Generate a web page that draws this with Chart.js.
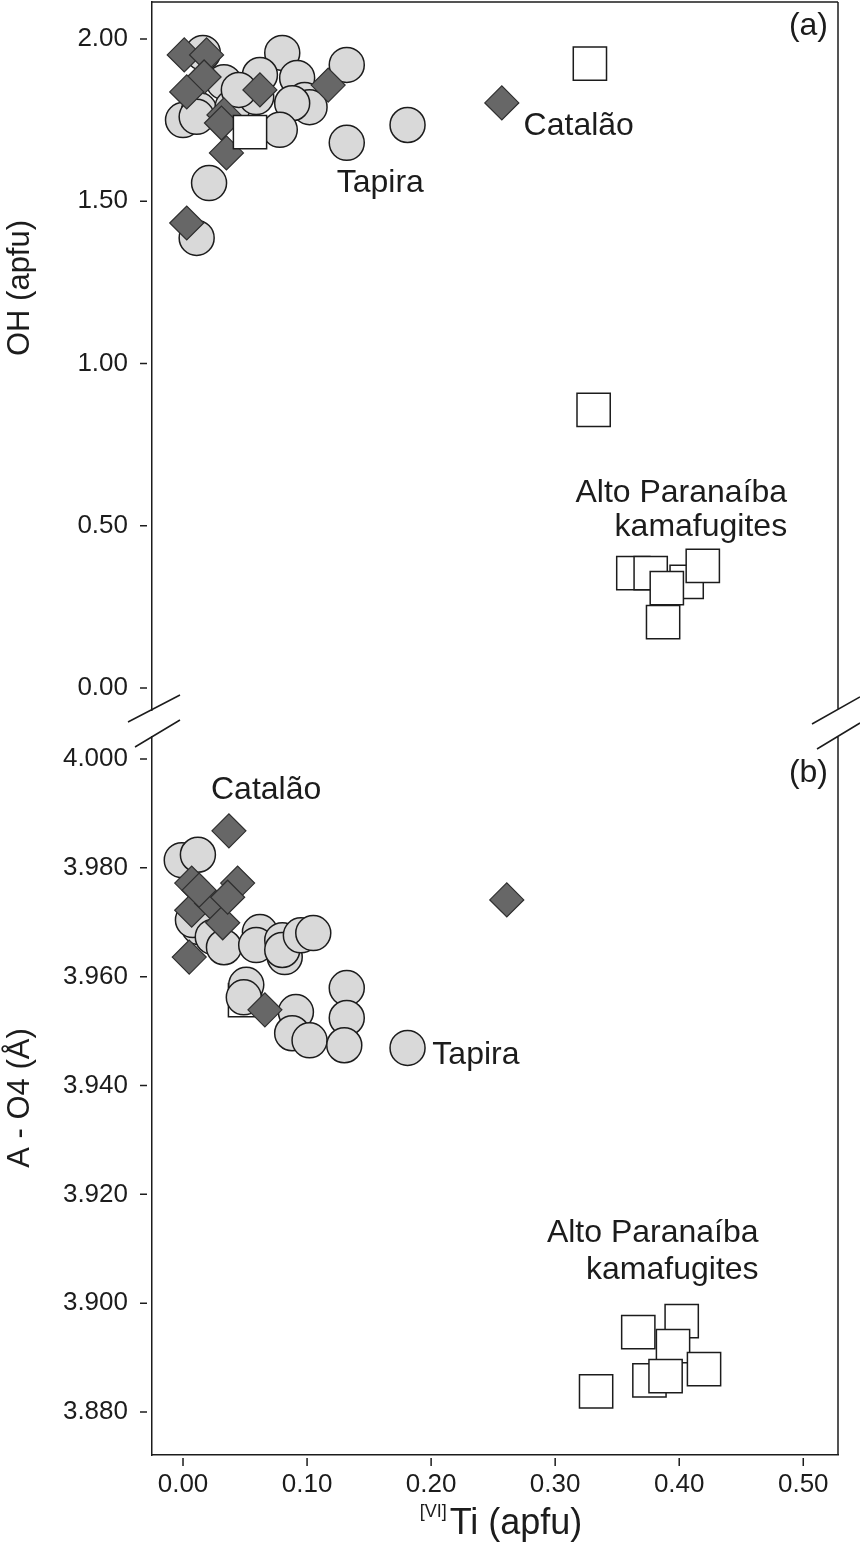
<!DOCTYPE html>
<html>
<head>
<meta charset="utf-8">
<title>OH and A-O4 vs Ti</title>
<script src="https://cdn.jsdelivr.net/npm/chart.js@4.4.1/dist/chart.umd.min.js"></script>
<style>
  html, body { margin: 0; padding: 0; background: #fff; }
  #wrap { position: relative; width: 860px; height: 1543px; overflow: hidden; }
  #wrap canvas { position: absolute; left: 0; }
  #panelA { top: 0; }
  #panelB { top: 715px; }
</style>
</head>
<body>
<div id="wrap">
  <canvas id="panelA" width="860" height="730"></canvas>
  <canvas id="panelB" width="860" height="828"></canvas>
</div>
<script>
const FONT = "'Liberation Sans', Arial, Helvetica, sans-serif";
const INK = '#1c1c1c';

// tick values
const TI_TICKS = [0, 0.1, 0.2, 0.3, 0.4, 0.5];
const OH_TICKS = [0, 0.5, 1.0, 1.5, 2.0];
const AO4_TICKS = [3.88, 3.90, 3.92, 3.94, 3.96, 3.98, 4.00];

// (a) OH (apfu) vs VI-Ti (apfu)
const tapiraTiA = [0.016, 0.080, 0.132, 0.033, 0.062, 0.092, 0.098, 0.102, 0.088, 0.000,
                   0.013, 0.011, 0.040, 0.059, 0.078, 0.132, 0.181, 0.021, 0.011, 0.045];
const tapiraOH  = [1.957, 1.957, 1.920, 1.867, 1.889, 1.880, 1.812, 1.790, 1.802, 1.750,
                   1.781, 1.760, 1.790, 1.821, 1.720, 1.680, 1.735, 1.556, 1.387, 1.843];
const catalaoTiA = [0.001, 0.019, 0.017, 0.003, 0.033, 0.062, 0.117, 0.035, 0.003, 0.257, 0.031];
const catalaoOH  = [1.951, 1.951, 1.883, 1.837, 1.766, 1.843, 1.858, 1.649, 1.433, 1.803, 1.741];
const altoTiA = [0.054, 0.328, 0.331, 0.363, 0.377, 0.406, 0.419, 0.390, 0.387];
const altoOH  = [1.713, 1.924, 0.857, 0.354, 0.354, 0.327, 0.376, 0.308, 0.203];

// (b) A-O4 (Å) vs VI-Ti (apfu)
const tapiraTiB = [-0.001, 0.012, 0.013, 0.008, 0.024, 0.033, 0.062, 0.059, 0.080, 0.082, 0.080,
                   0.095, 0.105, 0.051, 0.049, 0.091, 0.132, 0.132, 0.088, 0.102, 0.130, 0.181];
const tapiraAO4 = [3.9814, 3.9824, 3.9691, 3.9704, 3.9673, 3.9654, 3.9682, 3.9658, 3.9667, 3.9636, 3.9649,
                   3.9676, 3.9680, 3.9585, 3.9562, 3.9535, 3.9579, 3.9524, 3.9496, 3.9483, 3.9474, 3.9469];
const catalaoTiB = [0.037, 0.007, 0.044, 0.007, 0.023, 0.032, 0.036, 0.005, 0.066, 0.261, 0.013];
const catalaoAO4 = [3.9868, 3.9772, 3.9772, 3.9722, 3.9735, 3.9699, 3.9746, 3.9636, 3.9539, 3.9741, 3.9759];
const altoTiB = [0.050, 0.367, 0.402, 0.395, 0.376, 0.389, 0.420, 0.333];
const altoAO4 = [3.9557, 3.8947, 3.8967, 3.8921, 3.8858, 3.8866, 3.8879, 3.8838];

// group labels, placed in data units
const notesA = [
  { text: 'Tapira', x: 0.159, y: 1.556, align: 'center' },
  { text: 'Catalão', x: 0.319, y: 1.730, align: 'center' },
  { text: 'Alto Paranaíba', x: 0.487, y: 0.601, align: 'right' },
  { text: 'kamafugites', x: 0.487, y: 0.496, align: 'right' }
];
const notesB = [
  { text: 'Catalão', x: 0.067, y: 3.9943, align: 'center' },
  { text: 'Tapira', x: 0.201, y: 3.9456, align: 'left' },
  { text: 'Alto Paranaíba', x: 0.464, y: 3.9129, align: 'right' },
  { text: 'kamafugites', x: 0.464, y: 3.9061, align: 'right' }
];

const X_MIN = -0.025, X_MAX = 0.528;

Chart.defaults.font.family = FONT;
Chart.defaults.color = INK;

function pts(xs, ys) { return xs.map((x, i) => ({ x, y: ys[i] })); }

const circle = { pointStyle: 'circle', pointRadius: 17.5, pointBackgroundColor: '#d9d9d9', pointBorderColor: INK, pointBorderWidth: 1.5 };
const diamond = { pointStyle: 'rectRot', pointRadius: 17, pointBackgroundColor: '#676767', pointBorderColor: '#2e2e2e', pointBorderWidth: 1.2 };
const square = { pointStyle: 'rect', pointRadius: 23.5, pointBackgroundColor: '#ffffff', pointBorderColor: INK, pointBorderWidth: 1.5 };

// labels, panel letter, frame, break marks, tick dashes and axis titles
const decor = {
  id: 'decor',
  afterDatasetsDraw(chart, args, o) {
    const { ctx, chartArea: a, scales: { x, y } } = chart;
    ctx.save();
    ctx.fillStyle = INK;
    ctx.textBaseline = 'middle';
    ctx.font = `32px ${FONT}`;
    for (const n of o.notes) {
      ctx.textAlign = n.align;
      ctx.fillText(n.text, x.getPixelForValue(n.x), y.getPixelForValue(n.y));
    }
    ctx.textAlign = 'right';
    ctx.fillText(o.letter, a.right - 10, a.top + o.letterDy);

    ctx.strokeStyle = INK;
    ctx.lineWidth = 1.5;
    ctx.beginPath();
    if (o.topLine) { ctx.moveTo(a.left, a.top); ctx.lineTo(a.right, a.top); }
    ctx.moveTo(a.right, a.top); ctx.lineTo(a.right, a.bottom);
    // axis break
    if (o.breakAt === 'bottom') {
      ctx.moveTo(a.left - 24, a.bottom + 12); ctx.lineTo(a.left + 28, a.bottom - 15);
      ctx.moveTo(a.right - 26, a.bottom + 14); ctx.lineTo(a.right + 22, a.bottom - 13);
    } else {
      ctx.moveTo(a.left - 17, a.top + 10); ctx.lineTo(a.left + 28, a.top - 17);
      ctx.moveTo(a.right - 21, a.top + 12); ctx.lineTo(a.right + 22, a.top - 14);
    }
    // short detached tick dashes
    for (const t of y.ticks) {
      const py = y.getPixelForValue(t.value);
      ctx.moveTo(a.left - 12, py); ctx.lineTo(a.left - 5, py);
    }
    if (o.xTicks) {
      for (const t of x.ticks) {
        const px = x.getPixelForValue(t.value);
        ctx.moveTo(px, a.bottom + 3); ctx.lineTo(px, a.bottom + 11);
      }
    }
    ctx.stroke();

    // y title
    ctx.save();
    ctx.translate(20, o.yTitleY);
    ctx.rotate(-Math.PI / 2);
    ctx.textAlign = 'center';
    ctx.font = `31px ${FONT}`;
    ctx.fillText(o.yTitle, 0, 0);
    ctx.restore();

    // x title with superscript coordination
    if (o.xTitle) {
      ctx.textAlign = 'left';
      ctx.textBaseline = 'alphabetic';
      const sup = '[VI]', main = 'Ti (apfu)';
      ctx.font = `18px ${FONT}`;
      const ws = ctx.measureText(sup).width;
      ctx.font = `36px ${FONT}`;
      const wm = ctx.measureText(main).width;
      const x0 = (a.left + a.right) / 2 + 6 - (ws + wm + 3) / 2;
      const base = a.bottom + 79;
      ctx.font = `18px ${FONT}`;
      ctx.fillText(sup, x0, base - 17);
      ctx.font = `36px ${FONT}`;
      ctx.fillText(main, x0 + ws + 3, base);
    }
    ctx.restore();
  }
};

function yScale(min, max, ticks, digits) {
  return {
    type: 'linear', min, max,
    afterBuildTicks: s => { s.ticks = ticks.map(v => ({ value: v })); },
    afterFit: s => { s.width = 152; s.paddingTop = 0; s.paddingBottom = 0; },
    grid: { display: true, drawOnChartArea: false, drawTicks: false },
    border: { display: true, color: INK, width: 1.5 },
    ticks: { padding: 24, font: { size: 26 }, color: INK, callback: v => v.toFixed(digits) }
  };
}

const common = {
  responsive: false,
  animation: false,
  events: [],
  plugins: { legend: { display: false }, tooltip: { enabled: false } }
};

new Chart(document.getElementById('panelA'), {
  type: 'scatter',
  data: {
    datasets: [
      { label: 'Alto Paranaíba kamafugites', data: pts(altoTiA, altoOH), ...square },
      { label: 'Catalão', data: pts(catalaoTiA, catalaoOH), ...diamond },
      { label: 'Tapira', data: pts(tapiraTiA, tapiraOH), ...circle }
    ]
  },
  options: {
    ...common,
    layout: { autoPadding: false, padding: { top: 2, right: 22, bottom: 20, left: 0 } },
    scales: {
      x: { type: 'linear', display: false, min: X_MIN, max: X_MAX },
      y: yScale(-0.0678, 2.114, OH_TICKS, 2)
    },
    plugins: {
      ...common.plugins,
      decor: { notes: notesA, letter: '(a)', letterDy: 24, topLine: true, breakAt: 'bottom',
               xTicks: false, yTitle: 'OH (apfu)', yTitleY: 288 }
    }
  },
  plugins: [decor]
});

new Chart(document.getElementById('panelB'), {
  type: 'scatter',
  data: {
    datasets: [
      { label: 'Catalão', data: pts(catalaoTiB, catalaoAO4), ...diamond },
      { label: 'Tapira', data: pts(tapiraTiB, tapiraAO4), ...circle },
      { label: 'Alto Paranaíba kamafugites', data: pts(altoTiB, altoAO4), ...square }
    ]
  },
  options: {
    ...common,
    layout: { autoPadding: false, padding: { top: 22, right: 22, bottom: 0, left: 0 } },
    scales: {
      x: {
        type: 'linear', min: X_MIN, max: X_MAX,
        afterBuildTicks: s => { s.ticks = TI_TICKS.map(v => ({ value: v })); },
        afterFit: s => { s.height = 88; s.paddingLeft = 0; s.paddingRight = 0; },
        grid: { display: true, drawOnChartArea: false, drawTicks: false },
        border: { display: true, color: INK, width: 1.5 },
        ticks: { padding: 14, font: { size: 26 }, color: INK, maxRotation: 0, callback: v => v.toFixed(2) }
      },
      y: yScale(3.8721, 4.00404, AO4_TICKS, 3)
    },
    plugins: {
      ...common.plugins,
      decor: { notes: notesB, letter: '(b)', letterDy: 36, topLine: false, breakAt: 'top',
               xTicks: true, yTitle: 'A - O4 (Å)', yTitleY: 383, xTitle: true }
    }
  },
  plugins: [decor]
});
</script>
</body>
</html>
